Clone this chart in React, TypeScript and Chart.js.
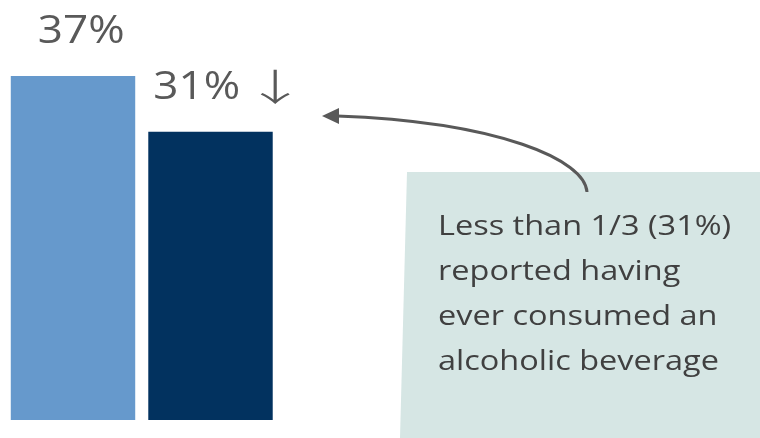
import React, { useEffect, useRef } from "react";
import { Chart, registerables } from "chart.js";

Chart.register(...registerables);

const categories = ["Earlier", "Current"];
const values = [37, 31];
const valueLabels = ["37%", "31%"];
const trendMarks = ["", "↓"];
const barColors = ["#6699CC", "#02325F"];
const noteLines = [
  "Less than 1/3 (31%)",
  "reported having",
  "ever consumed an",
  "alcoholic beverage",
];

function drawScaled(ctx: CanvasRenderingContext2D, text: string, x: number, y: number, sx: number) {
  ctx.save();
  ctx.translate(x, y);
  ctx.scale(sx, 1);
  ctx.fillText(text, 0, 0);
  ctx.restore();
}

const overlay = {
  id: "overlay",
  afterDatasetsDraw(chart: any) {
    const ctx: CanvasRenderingContext2D = chart.ctx;
    const meta = chart.getDatasetMeta(0);
    ctx.save();
    ctx.textBaseline = "alphabetic";
    ctx.textAlign = "left";
    ctx.fillStyle = "#595959";
    meta.data.forEach((bar: any, i: number) => {
      const left = bar.x - bar.width / 2;
      const x = i === 0 ? left + 27 : left + 5;
      ctx.font = "39px 'Open Sans'";
      drawScaled(ctx, valueLabels[i], x, bar.y - 33, 1.13);
      if (trendMarks[i]) {
        ctx.font = "300 37px 'Noto Sans CJK JP'";
        drawScaled(ctx, trendMarks[i], left + 95.5, bar.y - 30.5, 1.7);
      }
    });

    // note box
    ctx.fillStyle = "#D6E6E4";
    ctx.beginPath();
    ctx.moveTo(407, 172);
    ctx.lineTo(760, 172);
    ctx.lineTo(760, 438);
    ctx.lineTo(400, 438);
    ctx.closePath();
    ctx.fill();

    // callout arrow
    ctx.strokeStyle = "#595959";
    ctx.lineWidth = 3;
    ctx.beginPath();
    ctx.moveTo(587, 192);
    ctx.bezierCurveTo(585, 160, 500, 122, 337, 116);
    ctx.stroke();
    ctx.fillStyle = "#595959";
    ctx.beginPath();
    ctx.moveTo(322, 116);
    ctx.lineTo(339, 108);
    ctx.lineTo(339, 124);
    ctx.closePath();
    ctx.fill();

    // note text
    ctx.fillStyle = "#404040";
    ctx.font = "28px 'Open Sans'";
    noteLines.forEach((line, i) => {
      drawScaled(ctx, line, 438, 235 + i * 45, 1.16);
    });
    ctx.restore();
  },
};

export default function App() {
  const ref = useRef<HTMLCanvasElement | null>(null);
  useEffect(() => {
    if (!ref.current) return;
    const chart = new Chart(ref.current, {
      type: "bar",
      data: {
        labels: categories,
        datasets: [
          {
            data: values,
            backgroundColor: barColors,
            borderWidth: 0,
            barPercentage: 0.905,
            categoryPercentage: 1,
          },
        ],
      },
      options: {
        responsive: false,
        animation: false,
        layout: { padding: { left: 4.25, right: 480.75, top: 1.6, bottom: 18 } },
        plugins: { legend: { display: false }, tooltip: { enabled: false } },
        scales: {
          x: { display: false },
          y: { display: false, min: 0, max: 45 },
        },
      },
      plugins: [overlay],
    });
    return () => chart.destroy();
  }, []);
  return (
    <div style={{ position: "fixed", left: 0, top: 0, width: 760, height: 438, background: "#fff" }}>
      <canvas ref={ref} width={760} height={438} style={{ display: "block" }} />
    </div>
  );
}
